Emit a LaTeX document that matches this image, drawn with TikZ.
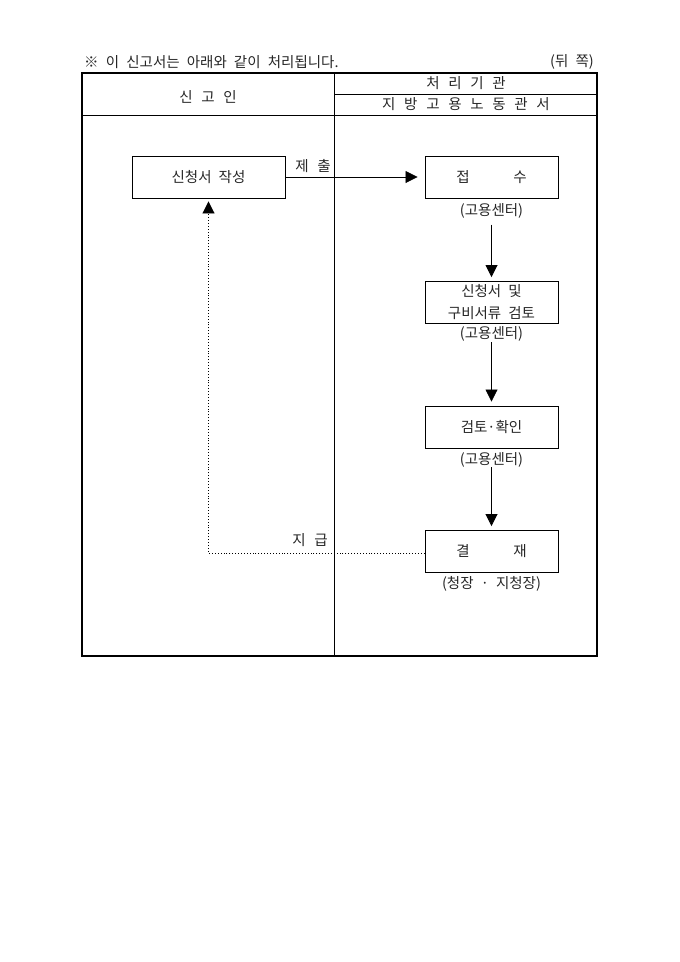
\documentclass[tikz,border=0pt]{standalone}
\usepackage{fontspec}
\setmainfont[WordSpace=2.2]{Noto Sans CJK KR}
\usetikzlibrary{arrows.meta}
\newcommand{\kgap}{\hspace{0.6em}}
\begin{document}
\begin{tikzpicture}[x=1pt,y=-1pt,
  txt/.style={font=\fontsize{14.5}{16}\selectfont, text=black!85, inner sep=0pt},
  box/.style={draw, line width=0.9pt, minimum width=133pt, minimum height=42pt, inner sep=0pt, align=center, text=black!85, font=\fontsize{14.5}{22}\selectfont},
  flow/.style={line width=0.8pt, -{Triangle[length=12pt,width=12pt]}},
  back/.style={line width=0.9pt, dotted, -{Triangle[length=12pt,width=12pt]}}]
\useasboundingbox (0,0) rectangle (680,962);
% header texts
\node[txt, anchor=west] (title) at (84,62) {※ 이 신고서는 아래와 같이 처리됩니다.};
\node[txt, anchor=east] (side) at (594,62) {(뒤 쪽)};
% table
\coordinate (tl) at (82,73);
\coordinate (br) at (597,656);
\draw[line width=1.6pt] (tl) rectangle (br);
\draw[line width=0.8pt] (334,73) -- (334,656);
\draw[line width=0.8pt] (82,115) -- (597,115);
\draw[line width=0.8pt] (334,94) -- (597,94);
\node[txt] (h1) at (208,97) {신\kgap 고\kgap 인};
\node[txt] (h2) at (466,83) {처\kgap 리\kgap 기\kgap 관};
\node[txt] (h3) at (466,104) {지\kgap 방\kgap 고\kgap 용\kgap 노\kgap 동\kgap 관\kgap 서};
% boxes
\node[box, minimum width=153pt] (n1) at (208.5,177) {신청서 작성};
\node[box] (n2) at (491.5,177) {접\hspace{3em}수};
\node[box] (n3) at (491.5,302.5) {신청서 및\\구비서류 검토};
\node[box] (n4) at (491.5,427) {검토·확인};
\node[box] (n5) at (491.5,551.5) {결\hspace{3em}재};
% sublabels
\node[txt] (s2) at (491.5,211) {(고용센터)};
\node[txt] (s3) at (491.5,334) {(고용센터)};
\node[txt] (s4) at (491.5,460) {(고용센터)};
\node[txt] (s5) at (491.5,584) {(청장 · 지청장)};
% connectors
\draw[flow, shorten >=7pt] (n1.east) -- (n2.west);
\node[txt] (l1) at (313,166) {제\kgap 출};
\draw[flow, shorten >=4pt] (s2.south) ++(0,6) coordinate (a2) -- (n3.north);
\draw[flow, shorten >=4pt] (491.5,342) coordinate (a3) -- (n4.north);
\draw[flow, shorten >=4pt] (491.5,467) coordinate (a4) -- (n5.north);
\draw[back, shorten >=3pt] ([yshift=-1.5pt]n5.west) -| (n1.south);
\node[txt] (l2) at (310,540) {지\kgap 급};
\end{tikzpicture}
\end{document}
